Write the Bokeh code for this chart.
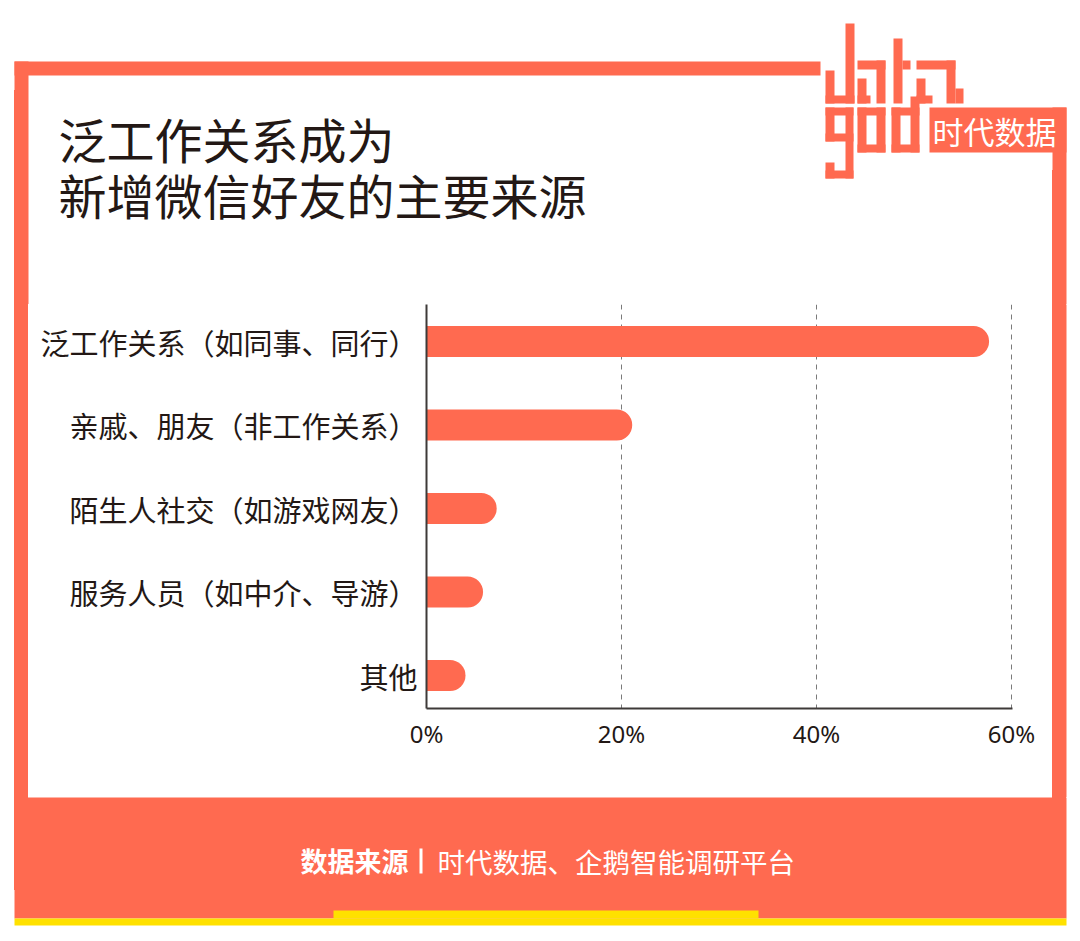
from bokeh.plotting import figure
from bokeh.layouts import column, row
from bokeh.models import Range1d, FixedTicker, ColumnDataSource
from bokeh.core.properties import value
from bokeh.embed import file_html
from bokeh.resources import INLINE

# ---------------- data ----------------
categories = ["泛工作关系（如同事、同行）", "亲戚、朋友（非工作关系）", "陌生人社交（如游戏网友）",
              "服务人员（如中介、导游）", "其他"]
values = [57.7, 21.1, 7.2, 5.8, 4.0]
x_ticks = [0, 20, 40, 60]
x_tick_labels = ["0%", "20%", "40%", "60%"]
title_lines = ["泛工作关系成为", "新增微信好友的主要来源"]
source_bold = "数据来源"
source_text = "时代数据、企鹅智能调研平台"
logo_text = "时代数据"

ORANGE = "#FF6A50"
YELLOW = "#FFE100"
DARK = "#231815"
CJK = "Noto Sans CJK SC"

W = 1072
TOP_H = 304          # page y 0..304
MID_H = 493          # page y 304..797
BOT_H = 136          # page y 797..933


def deco_fig(width, height, x0, y0):
    f = figure(width=width, height=height, x_range=Range1d(x0, x0 + width),
               y_range=Range1d(start=y0 + height, end=y0),
               x_axis_type=None, y_axis_type=None, min_border=0,
               output_backend="svg", toolbar_location=None, title=None,
               background_fill_alpha=0, border_fill_alpha=0)
    f.frame_align = False
    f.outline_line_color = None
    f.xgrid.visible = False
    f.ygrid.visible = False
    return f


def boxes(f, rects, color):
    l, r, t, b = zip(*rects)
    f.quad(left=list(l), right=list(r), top=list(t), bottom=list(b),
           fill_color=color, line_color=None)


def text(f, x, y, s, size, color, align="left", style="normal"):
    f.text(x=[x], y=[y], text=[s], text_font=value(CJK), text_font_size=value(size),
           text_color=color, text_align=align, text_baseline="middle", text_font_style=style)


# ---------------- top part: title, logo, frame ----------------
top = deco_fig(W, TOP_H, 0, 0)
boxes(top, [(14, 820, 61, 75), (14, 28, 61, 306), (1052, 1066, 107, 306)], ORANGE)
logo = [
    # d
    (825, 834, 70, 103), (825, 854, 95, 103), (845, 854, 23, 103),
    # a
    (857, 885, 60, 69), (876, 885, 60, 103), (857, 866, 78, 103), (857, 870, 95, 103),
    # t
    (893, 902, 38, 103), (902, 910, 60, 69),
    # a
    (916, 955, 60, 69), (946, 955, 60, 103), (955, 963, 88, 103), (916, 925, 78, 103), (916, 932, 95, 103),
    # g
    (825, 853, 107, 115), (825, 834, 107, 141), (825, 853, 133, 141), (845, 853, 107, 178),
    (825, 834, 162, 178), (825, 853, 170, 178),
    # o
    (857, 885, 107, 115), (857, 866, 107, 152), (876, 885, 107, 152), (857, 885, 144, 152),
    # d
    (891, 919, 107, 115), (891, 900, 107, 152), (910, 919, 96, 152), (891, 919, 144, 152),
    # box
    (929, 1066, 107, 152),
]
boxes(top, logo, ORANGE)
text(top, 994, 130, logo_text, "31px", "white", align="center")
text(top, 58, 137, title_lines[0], "48px", DARK)
text(top, 58, 193, title_lines[1], "48px", DARK)

# ---------------- middle: frame strips + chart ----------------
left_strip = deco_fig(28, MID_H, 0, 304)
boxes(left_strip, [(14, 28, 300, 800)], ORANGE)
right_strip = deco_fig(20, MID_H, 1052, 304)
boxes(right_strip, [(1052, 1066, 300, 800)], ORANGE)

positions = list(range(len(categories)))
src = ColumnDataSource(dict(y=positions, right=values))

FRAME_W = 586
PX_PER_UNIT = 9.75
chart = figure(
    width=1024, height=MID_H,
    min_border_left=398, min_border_right=40, min_border_top=0, min_border_bottom=89,
    x_range=Range1d(0, FRAME_W / PX_PER_UNIT),
    y_range=Range1d(start=4 + 33 / 83.5, end=-37 / 83.5),
    output_backend="svg", toolbar_location=None, title=None,
    background_fill_color="white", border_fill_color="white",
)
chart.frame_align = False
chart.outline_line_color = None
chart.hbar(y="y", right="right", left=0, height=31 / 83.5, source=src,
           fill_color=ORANGE, line_color=None, border_radius=(0, 16, 16, 0))

xa = chart.xaxis[0]
xa.ticker = FixedTicker(ticks=x_ticks)
xa.major_label_overrides = {t: l for t, l in zip(x_ticks, x_tick_labels)}
xa.axis_line_color = "#3e3a39"
xa.axis_line_width = 2
xa.major_tick_line_color = None
xa.minor_tick_line_color = None
xa.major_tick_out = 0
xa.major_label_standoff = 8
xa.major_label_text_font = "Noto Sans"
xa.major_label_text_font_size = "24px"
xa.major_label_text_color = DARK

ya = chart.yaxis[0]
ya.ticker = FixedTicker(ticks=positions)
ya.major_label_overrides = {i: c for i, c in zip(positions, categories)}
ya.axis_line_color = "#3e3a39"
ya.axis_line_width = 2
ya.major_tick_line_color = None
ya.minor_tick_line_color = None
ya.major_tick_out = 0
ya.major_label_standoff = 9
ya.major_label_text_font = CJK
ya.major_label_text_font_size = "29px"
ya.major_label_text_color = DARK

chart.ygrid.grid_line_color = None
chart.xgrid.ticker = FixedTicker(ticks=x_ticks[1:])
chart.xgrid.grid_line_color = "#7a7a7a"
chart.xgrid.grid_line_dash = "5 5"
chart.xgrid.grid_line_width = 1

# ---------------- bottom: footer ----------------
bottom = deco_fig(W, BOT_H, 0, 797)
boxes(bottom, [(14, 1066, 795, 918)], ORANGE)
boxes(bottom, [(14, 1066, 918, 925), (333, 758, 910, 918)], YELLOW)
text(bottom, 300, 860, source_bold, "27px", "white", style="bold")
boxes(bottom, [(419, 422, 848, 873)], "white")
text(bottom, 437, 860, source_text, "27.5px", "white")

# page background: frame side bars behind the seams between the stacked figures
page_bg = (f"linear-gradient({ORANGE}, {ORANGE}) 14px 90px / 14px 800px no-repeat, "
           f"linear-gradient({ORANGE}, {ORANGE}) 1052px 170px / 14px 720px no-repeat, #ffffff")
layout = column(top, row(left_strip, chart, right_strip), bottom, styles={"background": page_bg})
open("out.html", "w").write(file_html(layout, INLINE))
